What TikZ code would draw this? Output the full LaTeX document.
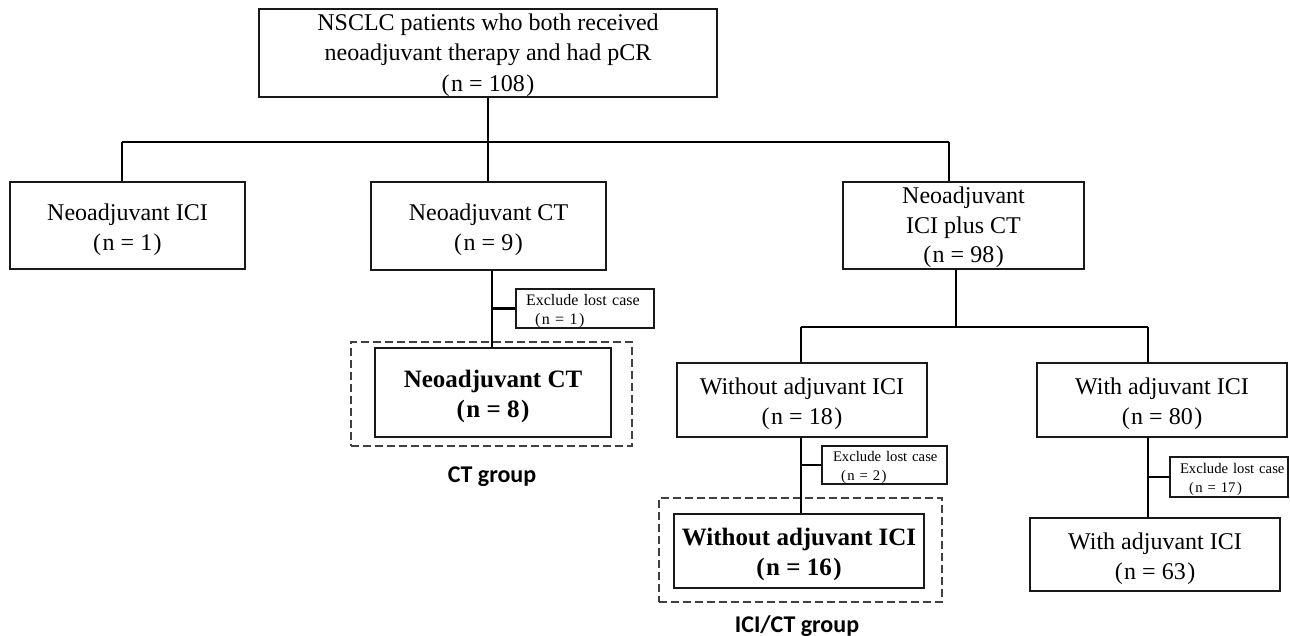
\documentclass[tikz,border=0pt]{standalone}
\usepackage{fontspec}
\setmainfont{Liberation Serif}
\newfontfamily\grpfont{Carlito}
\newcommand{\pn}[1]{(\kern1.5pt#1\kern1.5pt)}
\newcommand{\tstr}{\rule{0pt}{25pt}}
\newcommand{\tstrs}{\rule{0pt}{21pt}}
\begin{document}
\begin{tikzpicture}[x=1pt,y=-1pt,
  box/.style={draw=black!90, line width=1.7pt, rectangle, inner sep=0pt, align=center,
    font=\fontsize{24}{30}\selectfont},
  boldbox/.style={box, font=\bfseries\fontsize{25}{30}\selectfont},
  excbox/.style={draw=black!90, line width=1.4pt, rectangle, inner ysep=0pt, align=left,
    execute at begin node={\rule{0pt}{16pt}}},
  conn/.style={draw=black, line width=2.2pt},
  grpbox/.style={draw=black!75, line width=1.5pt, dash pattern=on 8pt off 4pt, rectangle, inner sep=0pt},
  grplabel/.style={font=\grpfont\bfseries\fontsize{24}{28}\selectfont, anchor=base, inner sep=0pt}
]
\fill[white] (0,0) rectangle (1290,636);
\useasboundingbox (0,0) rectangle (1290,636);

% boxes
\node[box, minimum width=458, minimum height=88, font=\fontsize{24}{30.5}\selectfont] (top) at (488,53)
  {\tstrs NSCLC patients who both received\\neoadjuvant therapy and had pCR\\\pn{n = 108}};
\node[box, minimum width=235, minimum height=87] (ici) at (127.5,225.5)
  {\tstr Neoadjuvant ICI\\\pn{n = 1}};
\node[box, minimum width=235, minimum height=88] (ct) at (488.5,226)
  {\tstr Neoadjuvant CT\\\pn{n = 9}};
\node[box, minimum width=241, minimum height=87, font=\fontsize{24}{29.5}\selectfont] (icict) at (963.5,225.5)
  {\tstrs Neoadjuvant\\ICI plus CT\\\pn{n = 98}};

% CT branch
\node[excbox, inner xsep=10pt, text width=118pt, minimum height=39,
  font=\fontsize{16}{19}\selectfont] (exc1) at (585,308.5)
  {\mbox{Exclude lost case}\\\hspace*{9pt}\pn{n = 1}};
\node[boldbox, minimum width=236, minimum height=89] (ctb) at (493,392.5)
  {\tstr Neoadjuvant CT\\\pn{n = 8}};
\node[grpbox, minimum width=281, minimum height=104] (ctgrp) at (491.5,394) {};
\node[grplabel] (ctlbl) at (492,482) {CT group};

% ICI plus CT branch
\node[box, minimum width=250, minimum height=74] (wo) at (802,400)
  {\tstr Without adjuvant ICI\\\pn{n = 18}};
\node[box, minimum width=250, minimum height=74] (w80) at (1162,400)
  {\tstr With adjuvant ICI\\\pn{n = 80}};
\node[excbox, inner xsep=11pt, text width=103pt, minimum height=38,
  font=\fontsize{14.7}{19}\selectfont] (exc2) at (884.5,465)
  {\mbox{Exclude lost case}\\\hspace*{8pt}\pn{n = 2}};
\node[excbox, inner xsep=10pt, text width=98pt, minimum height=40,
  font=\fontsize{14.7}{19}\selectfont] (exc3) at (1229,477)
  {\mbox{Exclude lost case}\\\hspace*{9pt}\pn{n = 17}};
\node[boldbox, minimum width=250, minimum height=74] (wob) at (799,551)
  {\tstr Without adjuvant ICI\\\pn{n = 16}};
\node[box, minimum width=250, minimum height=73] (w63) at (1155,554.5)
  {\tstr With adjuvant ICI\\\pn{n = 63}};
\node[grpbox, minimum width=283, minimum height=104] (icigrp) at (800.5,550) {};
\node[grplabel] (icilbl) at (797,632) {ICI/CT group};

% connectors, first level
\coordinate (hl) at (122,142);
\coordinate (hr) at (949,142);
\coordinate (hm) at (488,142);
\draw[conn] (top.south) -- (hm);
\draw[conn] (hl) -- (hr);
\draw[conn] (hl) -- (hl |- ici.north);
\draw[conn] (hm) -- (hm |- ct.north);
\draw[conn] (hr) -- (hr |- icict.north);

% CT branch connectors
\coordinate (cx) at (492,0);
\draw[conn] (cx |- ct.south) -- (cx |- ctb.north);
\draw[conn] (cx |- exc1.west) -- (exc1.west);

% ICI plus CT connectors
\coordinate (sl) at (801,327);
\coordinate (sr) at (1148,327);
\coordinate (sm) at (956,327);
\draw[conn] (sm |- icict.south) -- (sm);
\draw[conn] (sl) -- (sr);
\draw[conn] (sl) -- (sl |- wo.north);
\draw[conn] (sr) -- (sr |- w80.north);
\draw[conn] (sl |- wo.south) -- (sl |- wob.north);
\draw[conn] (sl |- exc2.west) -- (exc2.west);
\draw[conn] (sr |- w80.south) -- (sr |- w63.north);
\draw[conn] (sr |- exc3.west) -- (exc3.west);
\end{tikzpicture}
\end{document}
